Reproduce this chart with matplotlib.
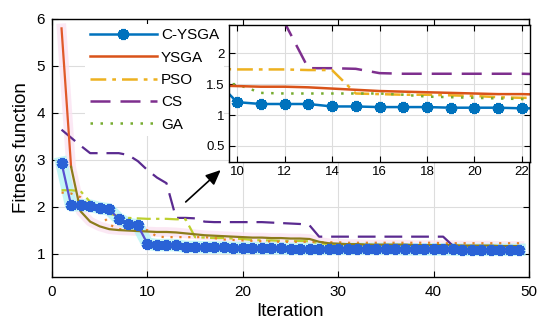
import matplotlib
matplotlib.use("Agg")
import matplotlib.pyplot as plt
from matplotlib.lines import Line2D
import numpy as np

plt.rcParams['font.family'] = ['Liberation Sans', 'DejaVu Sans']

iterations = list(range(1, 50))
c_ysga = [2.93, 2.03, 2.03, 2.02, 1.97, 1.94, 1.74, 1.63, 1.60, 1.21,
          1.18, 1.18, 1.18, 1.14, 1.14, 1.13, 1.13, 1.13, 1.12, 1.12,
          1.12, 1.11, 1.11, 1.11, 1.10, 1.10, 1.10, 1.10, 1.10, 1.10,
          1.10, 1.10, 1.10, 1.10, 1.10, 1.10, 1.09, 1.09, 1.09, 1.09,
          1.09, 1.09, 1.08, 1.08, 1.08, 1.08, 1.08, 1.08, 1.08]
ysga = [5.80, 2.85, 1.90, 1.68, 1.58, 1.52, 1.50, 1.49, 1.48, 1.47,
        1.46, 1.46, 1.45, 1.43, 1.41, 1.39, 1.38, 1.37, 1.36, 1.35,
        1.34, 1.34, 1.33, 1.33, 1.32, 1.32, 1.31, 1.25, 1.22, 1.21,
        1.20, 1.20, 1.19, 1.19, 1.19, 1.19, 1.19, 1.18, 1.18, 1.18,
        1.18, 1.18, 1.17, 1.17, 1.17, 1.17, 1.16, 1.16, 1.16]
pso = [2.35, 2.35, 2.33, 2.10, 1.95, 1.85, 1.80, 1.76, 1.75, 1.74,
       1.74, 1.74, 1.73, 1.73, 1.35, 1.34, 1.33, 1.33, 1.32, 1.31,
       1.29, 1.28, 1.28, 1.27, 1.27, 1.27, 1.26, 1.22, 1.20, 1.20,
       1.19, 1.19, 1.19, 1.18, 1.18, 1.18, 1.18, 1.18, 1.18, 1.18,
       1.17, 1.16, 1.15, 1.15, 1.14, 1.14, 1.13, 1.13, 1.12]
cs = [3.64, 3.47, 3.30, 3.14, 3.14, 3.14, 3.14, 3.10, 2.97, 2.78,
      2.62, 2.50, 1.76, 1.76, 1.75, 1.68, 1.67, 1.67, 1.67, 1.67,
      1.67, 1.67, 1.66, 1.65, 1.64, 1.63, 1.60, 1.36, 1.36, 1.36,
      1.36, 1.36, 1.36, 1.36, 1.36, 1.36, 1.36, 1.36, 1.36, 1.36,
      1.36, 1.17, 1.16, 1.16, 1.15, 1.15, 1.15, 1.14, 1.14]
ga = [2.30, 2.28, 2.20, 2.00, 1.90, 1.62, 1.52, 1.52, 1.51, 1.50,
      1.36, 1.35, 1.35, 1.35, 1.35, 1.35, 1.33, 1.30, 1.29, 1.28,
      1.27, 1.26, 1.26, 1.25, 1.25, 1.25, 1.25, 1.24, 1.24, 1.24,
      1.23, 1.23, 1.23, 1.23, 1.23, 1.23, 1.23, 1.23, 1.23, 1.23,
      1.22, 1.22, 1.22, 1.22, 1.22, 1.22, 1.22, 1.22, 1.22]
labels = ['C-YSGA', 'YSGA', 'PSO', 'CS', 'GA']
main_xticks = [0, 10, 20, 30, 40, 50]
main_yticks = [1, 2, 3, 4, 5, 6]
inset_xticks = [10, 12, 14, 16, 18, 20, 22]
inset_yticks = [0.5, 1, 1.5, 2]

C_BLUE = '#0072BD'; C_RED = '#D95319'; C_YEL = '#EDB120'; C_PUR = '#7E2F8E'; C_GRN = '#77AC30'
ast = (6, 2, 0)
DASH = (8, 4)
DASHDOT = (6.3, 2.4, 1.5, 2.4)
DOT = (1, 3)

x = np.array(iterations)
fig = plt.figure(figsize=(5.5, 3.34), dpi=100)
W, H = 550, 334
ax = fig.add_axes([52/W, 1-277/H, (529-52)/W, (277-19)/H])

# main plot (colours as they appear in the picture)
ax.plot(x, ysga, color='#fbe3f2', lw=7, alpha=0.8, zorder=1)
ax.plot(x, c_ysga, color='#b6f4f4', lw=9, alpha=0.8, zorder=1)
ax.plot(x, cs, color='#5a2a90', lw=1.6, dashes=DASH, zorder=3)
ax.plot(x, pso, color='#bdd02e', lw=1.6, dashes=DASHDOT, zorder=3)
ax.plot(x, ga, color='#e8842a', lw=1.6, dashes=DOT, zorder=3)
ax.plot(x[:2], ysga[:2], color='#e0592a', lw=1.6, zorder=4)
ax.plot(x[1:], ysga[1:], color='#8c7c1c', lw=1.6, zorder=4)
ax.plot(x, c_ysga, color='#5a4fd0', lw=1.6, marker=ast, ms=8, mew=3,
        mec='#2a62d6', mfc='#2a62d6', zorder=5)

ax.set_xlim(0, 50)
ax.set_ylim(0.5, 6)
ax.set_xticks(main_xticks)
ax.set_yticks(main_yticks)
ax.tick_params(direction='in', top=True, right=True, labelsize=11, length=4, width=0.8)
ax.tick_params(axis='x', pad=6)
ax.tick_params(axis='y', pad=5)
ax.grid(True, color='#dddddd', lw=0.8)
ax.set_axisbelow(True)
for s in ax.spines.values():
    s.set_linewidth(1.0)
ax.set_xlabel('Iteration', fontsize=13.5, labelpad=3)
ax.set_ylabel('Fitness function', fontsize=13.5, labelpad=5)

handles = [
    Line2D([0, 1, 2], [0, 0, 0], color=C_BLUE, lw=1.8, marker=ast, ms=8, mew=3, markevery=[1]),
    Line2D([], [], color=C_RED, lw=1.8),
    Line2D([], [], color=C_YEL, lw=1.8, dashes=DASHDOT),
    Line2D([], [], color=C_PUR, lw=1.8, dashes=DASH),
    Line2D([], [], color=C_GRN, lw=1.8, dashes=DOT),
]
leg = ax.legend(handles, labels, loc='upper left', bbox_to_anchor=(0.06, 1.0),
                frameon=True, fontsize=11, handlelength=4.4, handletextpad=0.25,
                labelspacing=0.55, borderaxespad=0.3, borderpad=0.3, markerscale=1)
leg.get_frame().set_edgecolor('none')
leg.get_frame().set_alpha(1)

ax.annotate('', xy=(17.9, 2.82), xytext=(13.8, 2.06),
            arrowprops=dict(arrowstyle='-|>,head_length=0.9,head_width=0.4',
                            color='black', lw=1.2), zorder=6)

# inset
ai = fig.add_axes([229/W, 1-162/H, (530-229)/W, (162-25)/H])
ai.set_facecolor('white')
ai.plot(x, cs, color=C_PUR, lw=1.8, dashes=DASH)
ai.plot(x, pso, color=C_YEL, lw=1.8, dashes=DASHDOT)
ai.plot(x, ga, color=C_GRN, lw=1.8, dashes=DOT)
ai.plot(x, ysga, color=C_RED, lw=1.8)
ai.plot(x, c_ysga, color=C_BLUE, lw=1.8, marker=ast, ms=8, mew=3)
ai.set_xlim(9.66, 22.34)
ai.set_ylim(0.24, 2.46)
ai.set_xticks(inset_xticks)
ai.set_yticks(inset_yticks)
ai.set_yticklabels(['0.5', '1', '1.5', '2'])
ai.tick_params(direction='in', top=True, right=True, labelsize=9.5, length=4, width=0.8, pad=3)
ai.grid(True, color='#dddddd', lw=0.8)
ai.set_axisbelow(True)
for s in ai.spines.values():
    s.set_linewidth(1.0)

fig.savefig('out.png', dpi=100)
